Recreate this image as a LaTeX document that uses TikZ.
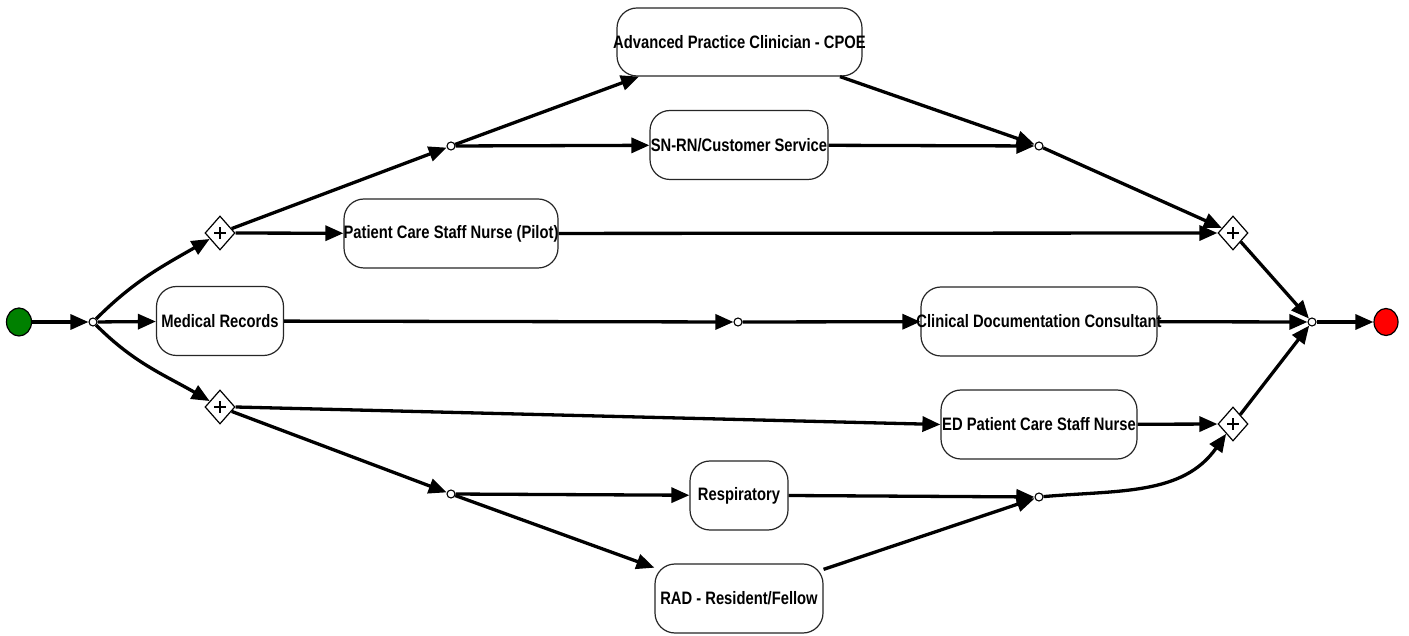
\documentclass[tikz,border=0pt]{standalone}
\usepackage{fontspec}
\setmainfont{Liberation Sans}
\newfontfamily\lblfont[FakeStretch=0.82]{Liberation Sans}
\usetikzlibrary{arrows.meta,shapes.geometric}
\begin{document}
\begin{tikzpicture}[x=1pt,y=1pt,
  task/.style={draw=black!85, line width=1.2pt, rounded corners=20pt, fill=white,
    minimum height=69pt, inner sep=0pt, font=\lblfont\bfseries\fontsize{18}{20}\selectfont},
  junc/.style={circle, draw, fill=white, line width=1.1pt, minimum size=8pt, inner sep=0pt},
  gate/.style={diamond, draw, fill=white, line width=1.2pt, minimum width=30pt,
    minimum height=34pt, inner sep=0pt,
    path picture={
      \draw[line width=2.6pt] ([xshift=-6pt]path picture bounding box.center) -- ([xshift=6pt]path picture bounding box.center);
      \draw[line width=2.6pt] ([yshift=-6pt]path picture bounding box.center) -- ([yshift=6pt]path picture bounding box.center);}},
  event/.style={ellipse, draw, line width=1.2pt, inner sep=0pt},
  flow/.style={line width=3.3pt, -{Triangle[length=18pt,width=15pt]}},
]
\useasboundingbox (0,0) rectangle (1409,635);

% events
\node[event, fill={rgb,255:red,0;green,128;blue,0}, minimum width=25pt, minimum height=28pt] (start) at (19,313) {};
\node[event, fill={rgb,255:red,255;green,0;blue,0}, minimum width=24pt, minimum height=27pt] (end) at (1386,313) {};

% junctions
\node[junc] (j0) at (93,313) {};
\node[junc] (j1) at (451,489) {};
\node[junc] (j2) at (738,313) {};
\node[junc] (j3) at (1039,489) {};
\node[junc] (j4) at (451,141) {};
\node[junc] (j5) at (1039,138) {};
\node[junc] (jend) at (1312,313) {};

% gateways
\node[gate] (g1) at (220,402) {};
\node[gate] (g2) at (220,228) {};
\node[gate] (g3) at (1233,402) {};
\node[gate] (g4) at (1233,211) {};

% tasks
\node[task, minimum width=127pt] (mr) at (220,314) {\makebox[0pt]{Medical Records}};
\node[task, minimum width=245pt, minimum height=68pt] (apc) at (739.5,593) {\makebox[0pt]{Advanced Practice Clinician - CPOE}};
\node[task, minimum width=178pt] (snrn) at (739,490) {\makebox[0pt]{SN-RN/Customer Service}};
\node[task, minimum width=214pt] (pcsn) at (451,401.5) {\makebox[0pt]{Patient Care Staff Nurse (Pilot)}};
\node[task, minimum width=236pt] (cdc) at (1039,313.5) {\makebox[0pt]{Clinical Documentation Consultant}};
\node[task, minimum width=196pt] (ed) at (1039,210.5) {\makebox[0pt]{ED Patient Care Staff Nurse}};
\node[task, minimum width=98pt] (resp) at (739,139.5) {\makebox[0pt]{Respiratory}};
\node[task, minimum width=168pt] (rad) at (739,36.5) {\makebox[0pt]{RAD - Resident/Fellow}};

% flows
\draw[flow] (start) -- (j0);
\draw[flow] (j0) to[out=45,in=210] (g1);
\draw[flow] (j0) -- (mr);
\draw[flow] (j0) to[out=-45,in=150] (g2);

\draw[flow] (g1) -- (j1);
\draw[flow] (g1) -- (pcsn);
\draw[flow] (j1) -- (apc.199);
\draw[flow] (j1) -- (snrn);
\draw[flow] (apc.-19) -- (j3);
\draw[flow] (snrn) -- (j3);
\draw[flow] (j3) -- (g3);
\draw[flow] (pcsn) -- (g3);
\draw[flow] (g3) -- (jend);

\draw[flow] (mr) -- (j2);
\draw[flow] (j2) -- (cdc);
\draw[flow] (cdc) -- (jend);
\draw[flow] (jend) -- (end);

\draw[flow] (g2.east) -- (ed.west);
\draw[flow] (g2) -- (j4);
\draw[flow] (j4) -- (resp);
\draw[flow] (j4) -- (rad.160);
\draw[flow] (resp.east) -- (j5);
\draw[flow] (rad.19) -- (j5);
\draw[flow] (j5) to[out=5,in=235] (g4);
\draw[flow] (ed) -- (g4);
\draw[flow] (g4) -- (jend);
\end{tikzpicture}
\end{document}
